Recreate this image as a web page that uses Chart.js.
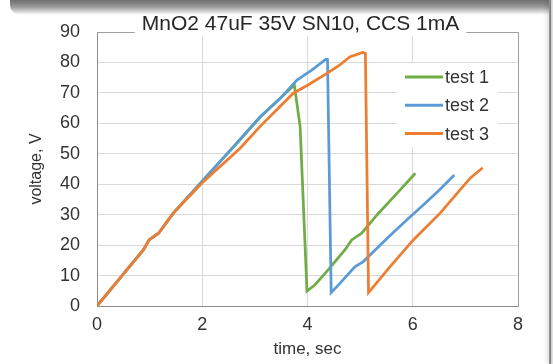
<!DOCTYPE html>
<html>
<head>
<meta charset="utf-8">
<script src="https://cdn.jsdelivr.net/npm/chart.js@4.4.1/dist/chart.umd.min.js"></script>
<style>
    html, body { margin: 0; padding: 0; background: #fff; }
    #wrap { position: relative; width: 553px; height: 364px; overflow: hidden; }
    #myChart { position: absolute; left: 0; top: 0; }
    .topShade {
        position: absolute; left: 10px; right: 0; top: 0; height: 15px;
        background: linear-gradient(#6e6e6e, #999 45%, rgba(255,255,255,0));
        border-bottom-left-radius: 10px;
    }
    .rightEdge {
        position: absolute; top: 0; right: 0; width: 4px; height: 364px;
        background: linear-gradient(to right, #9a9a9a 0, #7d7d7d 40%, #d2d2d2 60%, #e6e6e6 100%);
        box-shadow: -2px 0 4px rgba(0,0,0,0.15);
    }
</style>
</head>
<body>
<div id="wrap">
    <canvas id="myChart" width="553" height="364"></canvas>
    <div class="topShade"></div>
    <div class="rightEdge"></div>
</div>
<script>
// values (time in sec, voltage in V)
const timeTest1 = [0, 0.5, 0.88, 0.99, 1.17, 1.45, 2.0, 2.65, 3.1, 3.5, 3.75, 3.86, 3.99, 4.14, 4.4, 4.71, 4.84, 5.03, 5.32, 5.7, 6.05];
const voltTest1 = [0, 10.5, 18.4, 21.7, 23.9, 30.5, 41, 53.3, 62, 68.6, 72.6, 58.9, 4.9, 6.9, 12, 18.4, 21.7, 23.9, 29.9, 37, 43.6];

const timeTest2 = [0, 0.5, 0.88, 0.99, 1.17, 1.45, 2.0, 2.65, 3.1, 3.5, 3.8, 4.08, 4.35, 4.38, 4.45, 4.62, 4.9, 5.06, 5.51, 5.89, 6.2, 6.5, 6.79];
const voltTest2 = [0, 10.5, 18.4, 21.7, 23.9, 30.5, 41, 53.4, 62.2, 68.5, 74.2, 77.5, 81.1, 81, 4.4, 7.5, 12.9, 14.6, 22.2, 28.3, 33.2, 38, 43];

const timeTest3 = [0, 0.5, 0.88, 0.99, 1.17, 1.45, 2.0, 2.72, 3.1, 3.73, 4.0, 4.37, 4.6, 4.81, 5.05, 5.1, 5.16, 5.57, 6.01, 6.52, 7.09, 7.33];
const voltTest3 = [0, 10.5, 18.4, 21.7, 23.9, 30.5, 40.5, 51.8, 59, 69.9, 72.5, 76.4, 79, 81.9, 83.3, 83, 4.4, 12.9, 21.7, 30.5, 42, 45.4];

const seriesNames = ["test 1", "test 2", "test 3"];
const xTicks = [0, 2, 4, 6, 8];
const yTicks = [0, 10, 20, 30, 40, 50, 60, 70, 80, 90];
const titleText = "MnO2 47uF 35V SN10, CCS 1mA";

const colors = ["#70AD47", "#5B9BD5", "#ED7D31"];
const fontName = '"Liberation Sans", Arial, sans-serif';

function toPoints(ts, vs) {
    return ts.map((t, i) => ({ x: t, y: vs[i] }));
}

// grey frame on top/right of the plot area
const plotFrame = {
    id: 'plotFrame',
    beforeDatasetsDraw(chart) {
        const ctx = chart.ctx, a = chart.chartArea;
        ctx.save();
        ctx.strokeStyle = '#a0a0a0';
        ctx.lineWidth = 1;
        ctx.beginPath();
        ctx.moveTo(a.left, a.top + 0.5);
        ctx.lineTo(a.right + 0.5, a.top + 0.5);
        ctx.lineTo(a.right + 0.5, a.bottom);
        ctx.stroke();
        ctx.restore();
    }
};

// Excel-like title sitting on the frame line
const frameTitle = {
    id: 'frameTitle',
    afterDraw(chart) {
        const ctx = chart.ctx, a = chart.chartArea;
        const cx = (a.left + a.right) / 2 - 7;
        ctx.save();
        ctx.font = '21px ' + fontName;
        const w = ctx.measureText(titleText).width;
        ctx.fillStyle = '#fff';
        ctx.fillRect(cx - w / 2 - 7, a.top - 8, w + 14, 12);
        ctx.fillStyle = '#262626';
        ctx.textAlign = 'center';
        ctx.textBaseline = 'alphabetic';
        ctx.fillText(titleText, cx, a.top - 2);
        ctx.restore();
    }
};

// legend drawn inside the plot, upper right
const insideLegend = {
    id: 'insideLegend',
    afterDraw(chart) {
        const ctx = chart.ctx, a = chart.chartArea;
        const left = a.right - 121, top = a.top + 31;
        ctx.save();
        ctx.fillStyle = '#fff';
        ctx.fillRect(left, top, 101, 84);
        ctx.font = '18px ' + fontName;
        ctx.textBaseline = 'middle';
        chart.data.datasets.forEach((ds, i) => {
            const y = a.top + 45 + i * 28.3;
            ctx.strokeStyle = ds.borderColor;
            ctx.lineWidth = 3;
            ctx.beginPath();
            ctx.moveTo(left + 8, y);
            ctx.lineTo(left + 46, y);
            ctx.stroke();
            ctx.fillStyle = '#333';
            ctx.fillText(ds.label, left + 48, y + 1);
        });
        ctx.restore();
    }
};

const datasets = [
    [timeTest1, voltTest1],
    [timeTest2, voltTest2],
    [timeTest3, voltTest3]
].map((s, i) => ({
    label: seriesNames[i],
    data: toPoints(s[0], s[1]),
    borderColor: colors[i],
    backgroundColor: colors[i],
    borderWidth: 2.75,
    pointRadius: 0,
    showLine: true,
    tension: 0,
    fill: false,
    order: 3 - i   // later series on top, like Excel
}));

new Chart("myChart", {
    type: 'scatter',
    data: { datasets: datasets },
    options: {
        responsive: false,
        animation: false,
        layout: { padding: { top: 32, right: 35, left: 0, bottom: 0 } },
        plugins: {
            legend: { display: false },
            title: { display: false },
            tooltip: { enabled: false }
        },
        scales: {
            x: {
                type: 'linear',
                min: xTicks[0],
                max: xTicks[xTicks.length - 1],
                afterBuildTicks: s => { s.ticks = xTicks.map(v => ({ value: v })); },
                afterFit: s => { s.height = 58; },
                ticks: { padding: 8, color: '#333', font: { family: fontName, size: 18 } },
                grid: { color: '#d9d9d9', drawTicks: false },
                border: { color: '#8c8c8c', width: 1 },
                title: {
                    display: true, text: 'time, sec', color: '#333',
                    font: { family: fontName, size: 17 },
                    padding: { top: 0, bottom: 4 }
                }
            },
            y: {
                min: yTicks[0],
                max: yTicks[yTicks.length - 1],
                afterBuildTicks: s => { s.ticks = yTicks.map(v => ({ value: v })); },
                afterFit: s => { s.width = 97; },
                ticks: { padding: 17, color: '#333', font: { family: fontName, size: 18 } },
                grid: { color: '#d9d9d9', drawTicks: false },
                border: { color: '#8c8c8c', width: 1 },
                title: {
                    display: true, text: 'voltage, V', color: '#333',
                    font: { family: fontName, size: 16 },
                    padding: { top: 27, bottom: 0 }
                }
            }
        }
    },
    plugins: [plotFrame, frameTitle, insideLegend]
});
</script>
</body>
</html>
